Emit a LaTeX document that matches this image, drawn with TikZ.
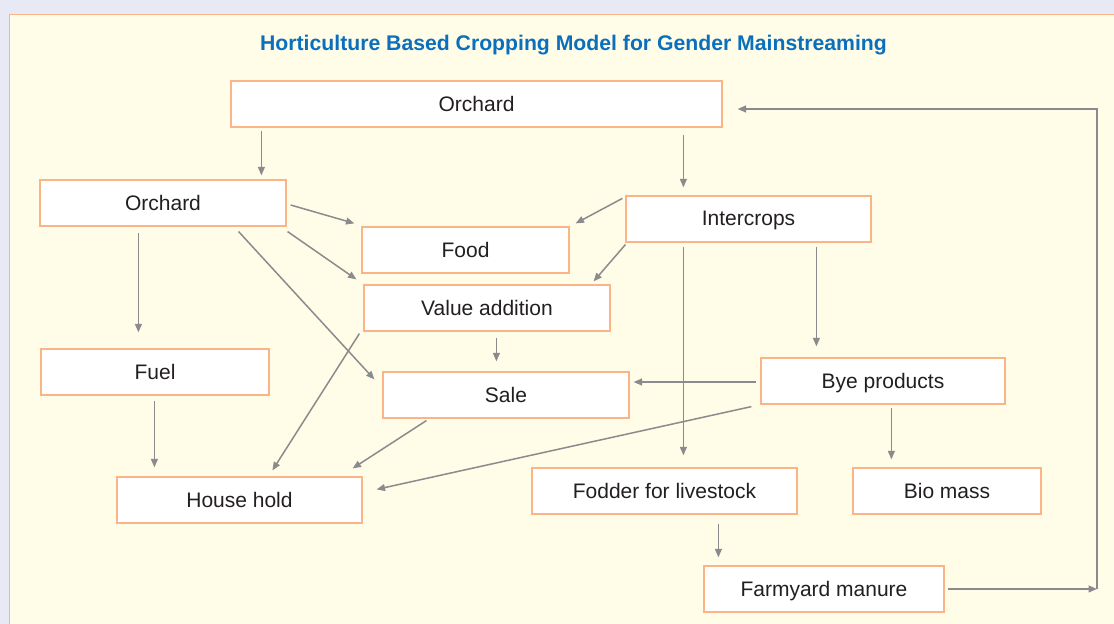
\documentclass[tikz,border=0pt]{standalone}
\usepackage{xcolor}
\usepackage{fontspec}
\setmainfont{Liberation Sans}
\usepackage{tikz}
\usetikzlibrary{arrows.meta}
\definecolor{pagebg}{rgb}{0.906,0.914,0.957}
\definecolor{panelfill}{rgb}{1.,0.988,0.906}
\definecolor{boxedge}{rgb}{0.980,0.706,0.525}
\definecolor{grayline}{rgb}{0.545,0.545,0.553}
\definecolor{titleblue}{rgb}{0.039,0.435,0.741}
\definecolor{textblack}{rgb}{0.137,0.122,0.125}
\tikzstyle{every node}=[font=\fontsize{10.5}{12.5}\selectfont, text=textblack]
\tikzstyle{box}=[draw=boxedge, line width=0.6pt, fill=white, inner sep=0pt, minimum height=23pt, text depth=0.6pt]
\tikzstyle{link}=[->, color=grayline, line width=0.75pt]

\begin{document}
\begin{tikzpicture}[line cap=butt, line join=miter, >={Triangle[length=4.2pt,width=3.4pt]}, x=0.5pt, y=-0.5pt]
    \useasboundingbox (0,0) rectangle (1114,624);
    \clip (0,0) rectangle (1114,624);
    \fill[pagebg] (0,0) rectangle (1114,624);
    \draw[boxedge, fill=panelfill, line width=0.6pt] (9.5,14.5) rectangle (1130,640);

    \node[font=\fontsize{10.6}{13}\selectfont\bfseries, text=titleblue] (title) at (573.5,45.5) {Horticulture Based Cropping Model for Gender Mainstreaming};

    % boxes
    \node[box, minimum width=245.5pt] (orchT) at (476.5,104) {Orchard};
    \node[box, minimum width=123pt] (orchL) at (163,203) {Orchard};
    \node[box, minimum width=103.5pt] (food) at (465.5,250) {Food};
    \node[box, minimum width=122.5pt] (inter) at (748.5,219) {Intercrops};
    \node[box, minimum width=123pt] (value) at (487,308) {Value addition};
    \node[box, minimum width=114pt] (fuel) at (155,372) {Fuel};
    \node[box, minimum width=123pt] (sale) at (506,395) {Sale};
    \node[box, minimum width=122pt] (bye) at (883,381) {Bye products};
    \node[box, minimum width=122.5pt] (house) at (239.5,500) {House hold};
    \node[box, minimum width=132.5pt] (fodder) at (664.5,491) {Fodder for livestock};
    \node[box, minimum width=94pt] (bio) at (947,491) {Bio mass};
    \node[box, minimum width=120pt] (manure) at (824,589) {Farmyard manure};
    \coordinate (back) at (1097,589);

    % links
    \draw[link] ([xshift=15.5pt,yshift=-1.5pt]orchT.south west) -- ([xshift=111pt,yshift=2pt]orchL.north west);
    \draw[link] ([xshift=226.5pt,yshift=-3.5pt]orchT.south west) -- ([xshift=29pt,yshift=4pt]inter.north west);
    \draw[link] ([xshift=2pt,yshift=-1pt]orchL.east) -- ([xshift=-3.5pt,yshift=1.5pt]food.north west);
    \draw[link] ([xshift=0.5pt,yshift=-2.5pt]orchL.south east) -- ([xshift=-3.5pt,yshift=2.5pt]value.north west);
    \draw[link] ([xshift=-24pt,yshift=-2.5pt]orchL.south east) -- ([xshift=-4pt,yshift=-4pt]sale.north west);
    \draw[link] ([xshift=49.5pt,yshift=-3pt]orchL.south west) -- ([xshift=49pt,yshift=8pt]fuel.north west);
    \draw[link] ([xshift=-1.5pt,yshift=-1.5pt]inter.north west) -- ([xshift=3pt,yshift=1.5pt]food.north east);
    \draw[link] ([xshift=0pt,yshift=-1pt]inter.south west) -- ([xshift=-8.5pt,yshift=1.5pt]value.north east);
    \draw[link] ([xshift=29pt,yshift=-2pt]inter.south west) -- ([xshift=76pt,yshift=6pt]fodder.north west);
    \draw[link] ([xshift=95.5pt,yshift=-2pt]inter.south west) -- ([xshift=28pt,yshift=5.5pt]bye.north west);
    \draw[link] ([xshift=-2pt,yshift=-0.5pt]bye.west) -- ([xshift=2pt,yshift=-0.5pt]bye.west -| sale.east);
    \draw[link] ([xshift=-4.5pt,yshift=-1pt]bye.south west) -- ([xshift=7pt,yshift=-6.5pt]house.north east);
    \draw[link] ([xshift=65.5pt,yshift=-1.5pt]bye.south west) -- ([xshift=19.5pt,yshift=4pt]bio.north west);
    \draw[link] ([xshift=66.5pt,yshift=-3pt]value.south west) -- ([xshift=57pt,yshift=5pt]sale.north west);
    \draw[link] ([xshift=-2pt,yshift=-1pt]value.south west) -- ([xshift=78pt,yshift=3pt]house.north west);
    \draw[link] ([xshift=22pt,yshift=-1pt]sale.south west) -- ([xshift=-5pt,yshift=4pt]house.north east);
    \draw[link] ([xshift=57pt,yshift=-2.5pt]fuel.south west) -- ([xshift=19pt,yshift=4.5pt]house.north west);
    \draw[link] ([xshift=93.5pt,yshift=-4.5pt]fodder.south west) -- ([xshift=7.5pt,yshift=4pt]manure.north west);
    \draw[link] ([xshift=1.5pt]manure.east) -- (back);
    \draw[link] (back) |- ([xshift=7.5pt,yshift=-2.5pt]orchT.east);
\end{tikzpicture}
\end{document}
